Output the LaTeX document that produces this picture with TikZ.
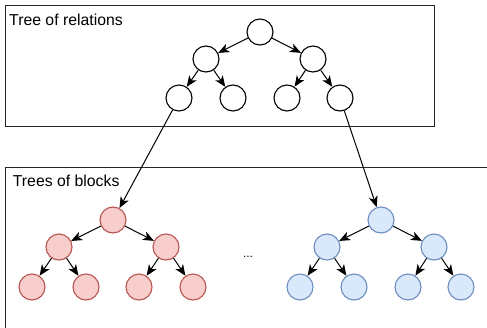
\documentclass[tikz,border=0pt]{standalone}
\usepackage{fontspec}
\setmainfont{Liberation Sans}
\usetikzlibrary{arrows.meta}
\definecolor{redfill}{HTML}{F8CECC}
\definecolor{redline}{HTML}{B85450}
\definecolor{bluefill}{HTML}{DAE8FC}
\definecolor{blueline}{HTML}{6C8EBF}
\tikzset{
  tnode/.style={circle, draw=black, fill=white, line width=1.1pt, minimum size=26pt, inner sep=0pt},
  rnode/.style={tnode, draw=redline, fill=redfill},
  bnode/.style={tnode, draw=blueline, fill=bluefill},
  conn/.style={-{Stealth[length=11pt,width=9pt,inset=3pt]}, line width=1pt, black},
  frame/.style={draw=black!85, line width=1pt},
  lbl/.style={anchor=base west, inner sep=0pt, font=\fontsize{15.8}{18}\selectfont}
}
\begin{document}
\begin{tikzpicture}[x=1pt,y=-1pt]
\useasboundingbox[fill=white] (0,0) rectangle (487,327);
\clip (0,0) rectangle (487,327);
% frames
\draw[frame] (5,5) rectangle (434,126);
\draw[frame] (5,167) rectangle (495,335);
\node[lbl] (t1) at (9,25) {Tree of relations};
\node[lbl] (t2) at (12.7,186) {Trees of blocks};
% top tree
\node[tnode] (a) at (260,32) {};
\node[tnode] (b) at (206,59) {};
\node[tnode] (c) at (313,59) {};
\node[tnode] (d) at (179,98) {};
\node[tnode] (e) at (233,98) {};
\node[tnode] (f) at (287,98) {};
\node[tnode] (g) at (340,98) {};
% red tree
\node[rnode] (ra) at (113,220) {};
\node[rnode] (rb) at (59,247) {};
\node[rnode] (rc) at (166,247) {};
\node[rnode] (rd) at (32,287) {};
\node[rnode] (re) at (86,287) {};
\node[rnode] (rf) at (139,287) {};
\node[rnode] (rg) at (193,287) {};
% blue tree
\node[bnode] (ba) at (381,220) {};
\node[bnode] (bb) at (327,247) {};
\node[bnode] (bc) at (434,247) {};
\node[bnode] (bd) at (300,287) {};
\node[bnode] (be) at (354,287) {};
\node[bnode] (bf) at (408,287) {};
\node[bnode] (bg) at (461,287) {};
% dots
\node[font=\fontsize{12}{14}\selectfont, inner sep=0pt] (dots) at (248,257) {...};
% edges
\foreach \p in {,r,b}{
  \draw[conn] (\p a) -- (\p b);
  \draw[conn] (\p a) -- (\p c);
  \draw[conn] (\p b) -- (\p d);
  \draw[conn] (\p b) -- (\p e);
  \draw[conn] (\p c) -- (\p f);
  \draw[conn] (\p c) -- (\p g);
}
\draw[conn] (d) -- (ra);
\draw[conn] (g) -- (ba);
\end{tikzpicture}
\end{document}
